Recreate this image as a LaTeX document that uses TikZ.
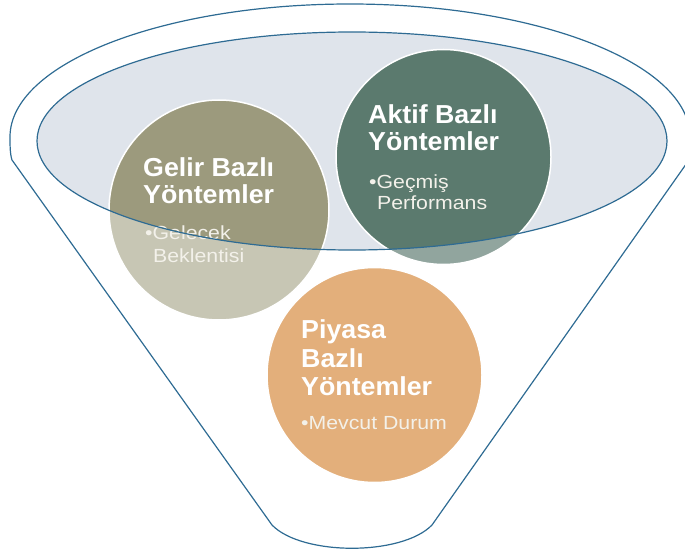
\documentclass[tikz,border=0pt]{standalone}
\usepackage{fontspec}
\setmainfont{Liberation Sans}
\newfontfamily\hdfont[FakeStretch=1.03]{Liberation Sans}
\newfontfamily\sbfont[FakeStretch=1.12]{Liberation Sans}
\definecolor{lineblue}{HTML}{2E6B93}
\definecolor{ellfill}{HTML}{DFE4EB}
\definecolor{gelirdark}{HTML}{9C9A7D}
\definecolor{gelirlight}{HTML}{C7C6B4}
\definecolor{aktifdark}{HTML}{5B7A6E}
\definecolor{aktiflight}{HTML}{91A59E}
\definecolor{piyasacol}{HTML}{E3AF7B}
\definecolor{subtext}{HTML}{F3F1EA}
\tikzset{
  hd/.style={anchor=base west, inner sep=0pt, text=white, font=\hdfont\bfseries\fontsize{26}{26}\selectfont},
  sb/.style={anchor=base west, inner sep=0pt, text=subtext, font=\sbfont\fontsize{19}{19}\selectfont},
  outline/.style={draw=lineblue, line width=1.2pt},
  rim/.style={draw=white, line width=1.5pt}
}
\begin{document}
\begin{tikzpicture}[x=1pt,y=1pt]
\useasboundingbox (0,0) rectangle (685,-556);
\clip (0,0) rectangle (685,-556);
% inner ellipse fill
\fill[ellfill] (352,-141) ellipse [x radius=315, y radius=109];
% Gelir circle (two tones)
\fill[gelirlight] (219,-210) circle [radius=110];
\begin{scope}
  \clip (352,-141) ellipse [x radius=315, y radius=109];
  \fill[gelirdark] (219,-210) circle [radius=110];
\end{scope}
\draw[rim] (219,-210) circle [radius=110];
% Aktif circle (two tones)
\fill[aktiflight] (443.5,-157) circle [radius=107.5];
\begin{scope}
  \clip (352,-141) ellipse [x radius=315, y radius=109];
  \fill[aktifdark] (443.5,-157) circle [radius=107.5];
\end{scope}
\draw[rim] (443.5,-157) circle [radius=107.5];
% Piyasa circle
\fill[piyasacol] (374.5,-375) circle [radius=107.5];
\draw[rim] (374.5,-375) circle [radius=107.5];
% texts
\node[hd] (g1) at (143,-177) {Gelir Bazlı};
\node[hd] (g2) at (143,-204) {Yöntemler};
\node[sb] (g3) at (145,-240) {•Gelecek};
\node[sb] (g4) at (153,-262) {Beklentisi};
\node[hd] (a1) at (368,-124) {Aktif Bazlı};
\node[hd] (a2) at (368,-151) {Yöntemler};
\node[sb] (a3) at (369,-189) {•Geçmiş};
\node[sb] (a4) at (377,-210) {Performans};
\node[hd] (p1) at (301,-338) {Piyasa};
\node[hd] (p2) at (301,-367) {Bazlı};
\node[hd] (p3) at (301,-395) {Yöntemler};
\node[sb] (p4) at (301,-429) {•Mevcut Durum};
% outlines
\draw[outline] (352,-141) ellipse [x radius=315, y radius=109];
\draw[outline] (272,-525) -- (12,-160)
  .. controls (10,-154) and (10,-145) .. (10,-137)
  arc[start angle=180, end angle=0, x radius=340, y radius=133]
  .. controls (690,-145) and (690,-154) .. (689,-160)
  -- (432,-525)
  .. controls (402,-556) and (302,-556) .. (272,-525) -- cycle;
\end{tikzpicture}
\end{document}
